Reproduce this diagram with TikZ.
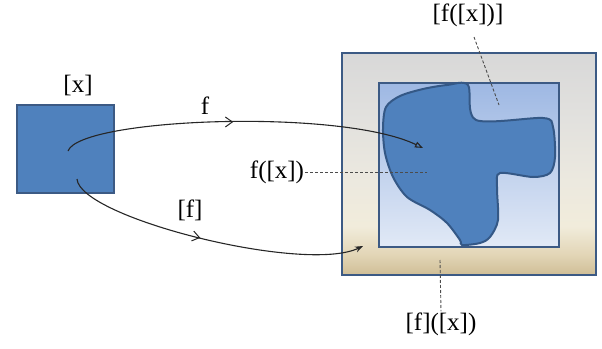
\documentclass[tikz,border=0pt]{standalone}
\usepackage{fontspec}
\setmainfont{Liberation Serif}
\usetikzlibrary{arrows.meta,decorations.markings}
\definecolor{boxblue}{RGB}{79,129,189}
\definecolor{boxedge}{RGB}{60,90,132}
\definecolor{blobedge}{RGB}{52,88,134}
\definecolor{tanlow}{RGB}{207,190,150}
\definecolor{tanmid}{RGB}{226,213,182}
\definecolor{beigelight}{RGB}{241,236,219}
\definecolor{beigegray}{RGB}{236,233,223}
\definecolor{graymid}{RGB}{226,225,222}
\definecolor{graytop}{RGB}{216,216,216}
\pgfdeclareverticalshading{outershade}{100bp}{color(0bp)=(tanlow); color(25bp)=(tanlow); color(29.5bp)=(tanmid);
    color(36bp)=(beigelight); color(46bp)=(beigegray); color(60bp)=(graymid); color(75bp)=(graytop); color(100bp)=(graytop)}
\begin{document}
\begin{tikzpicture}[
        x=1pt, y=-1pt,
        set_box/.style={draw=boxedge, line width=1.6pt, fill=boxblue, minimum width=97pt, minimum height=88pt, inner sep=0pt},
        outer_box/.style={draw=boxedge, line width=2pt, minimum width=254pt, minimum height=222pt, inner sep=0pt, shading=outershade},
        inner_box/.style={draw=boxedge, line width=2pt, minimum width=180pt, minimum height=164pt, inner sep=0pt,
            shading=axis, top color={rgb,255:red,158;green,184;blue,227}, bottom color={rgb,255:red,225;green,233;blue,246}},
        blob/.style={draw=blobedge, line width=2pt, fill=boxblue},
        set_label/.style={font=\fontsize{25}{28}\selectfont, inner sep=1pt},
        map_arrow/.style={line width=1.1pt, black!85,
            postaction={decorate, decoration={markings, mark=at position #1 with {\arrow{Straight Barb[length=7pt, width=10pt, line width=1pt]}}}}},
        leader/.style={densely dashed, line width=0.9pt, black!70}
    ]
        \useasboundingbox (0,0) rectangle (602,348);

        % Sets
        \node[set_box] (xbox) at (65.5,149) {};
        \node[outer_box] (outer) at (469,164) {};
        \node[inner_box] (inner) at (469,165) {};

        % Image of [x] under f
        \draw[blob] plot[smooth cycle, tension=0.5] coordinates {
            (468,85) (476,120) (543,118) (553,127) (555,157) (550,173) (533,177)
            (500,173) (497,187) (498,220) (490,237) (480,243) (462,245) (460,240)
            (447,223) (430,210) (407,197) (393,177) (385,153) (383,128) (386,107)
            (400,96) (423,89) (447,85)};

        % Labels
        \node[set_label] (xlabel) at (78,85) {[x]};
        \node[set_label] (flabel) at (205,106) {f};
        \node[set_label] (fblabel) at (190,210) {[f]};
        \node[set_label] (fxlabel) at (277,172) {f([x])};
        \node[set_label] (ffxlabel) at (468,15) {[f([x])]};
        \node[set_label] (fbxlabel) at (441,324) {[f]([x])};

        % Maps
        \coordinate (fstart) at (68,151);
        \coordinate (fend) at (423,148);
        \coordinate (fbstart) at (77,179);
        \coordinate (fbend) at (363,246);
        \draw[map_arrow=0.47, -{Triangle[open, length=8pt, width=6pt]}] (fstart) .. controls (80,118) and (340,108) .. (fend);
        \draw[map_arrow=0.46, -{Stealth[length=8pt, width=6pt]}] (fbstart) .. controls (80,218) and (305,274) .. (fbend);

        % Leaders
        \coordinate (fxpt) at (427,172);
        \coordinate (ffxtop) at (474,37);
        \coordinate (ffxpt) at (499,105);
        \coordinate (fbxtop) at (440,260);
        \draw[leader] (fxlabel.east) -- (fxpt);
        \draw[leader] (ffxtop) -- (ffxpt);
        \draw[leader] (fbxtop) -- (fbxlabel.north);
    \end{tikzpicture}
\end{document}
